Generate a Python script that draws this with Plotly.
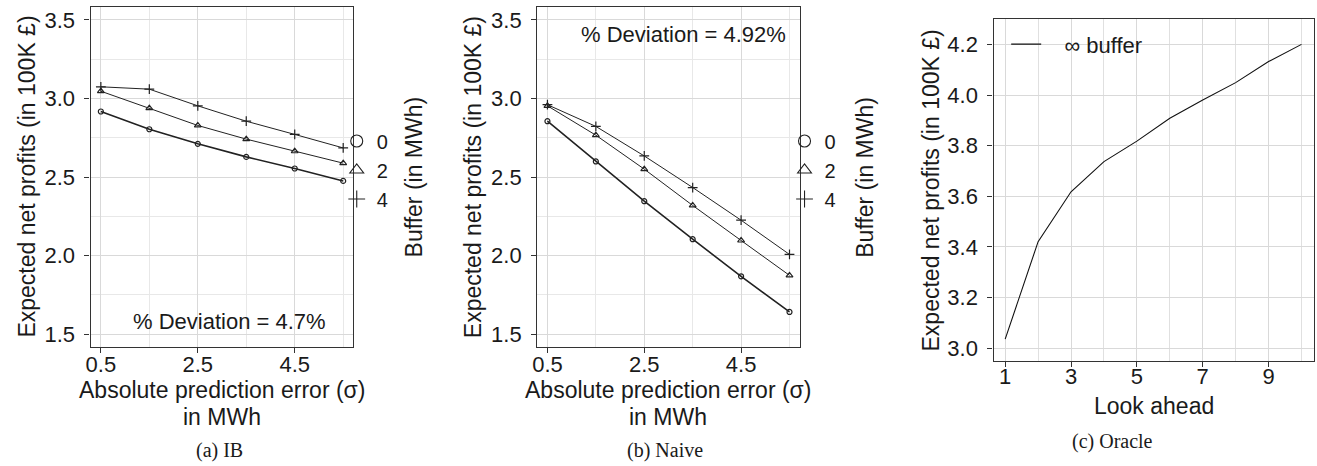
import plotly.graph_objects as go

W, H = 1317, 466

# Absolute prediction error (sigma) in MWh
sigma = [0.5, 1.5, 2.5, 3.5, 4.5, 5.5]
buffer_labels = ["0", "2", "4"]

# (a) IB policy, expected net profits (100K GBP) per buffer size
ib_buf0 = [2.917, 2.804, 2.711, 2.628, 2.554, 2.475]
ib_buf2 = [3.046, 2.938, 2.828, 2.741, 2.664, 2.588]
ib_buf4 = [3.074, 3.059, 2.953, 2.855, 2.771, 2.685]

# (b) Naive policy
naive_buf0 = [2.855, 2.599, 2.346, 2.104, 1.868, 1.641]
naive_buf2 = [2.953, 2.766, 2.550, 2.319, 2.096, 1.874]
naive_buf4 = [2.960, 2.822, 2.634, 2.433, 2.225, 2.007]

# (c) Oracle with infinite buffer
look_ahead = [1, 2, 3, 4, 5, 6, 7, 8, 9, 10]
oracle_profit = [3.036, 3.421, 3.618, 3.737, 3.818, 3.908, 3.980, 4.049, 4.132, 4.200]

deviation_ib = "% Deviation = 4.7%"
deviation_naive = "% Deviation = 4.92%"

SANS = "Liberation Sans, Arial, sans-serif"
SERIF = "Liberation Serif, Times New Roman, serif"
INK = "#1a1a1a"


def fx(px):
    return px / W


def fy(py):
    return 1 - py / H


symbols = ["circle-open", "triangle-up-open", "cross-thin-open"]
data_sizes = [5, 6, 7]
legend_sizes = [12, 12, 12]
line_widths = [1.6, 1.0, 1.0]

fig = go.Figure()


def add_panel(series, xa, ya, legend_name):
    for vals, sym, ms, lw in zip(series, symbols, data_sizes, line_widths):
        fig.add_trace(go.Scatter(
            x=sigma, y=vals, mode="lines+markers", xaxis=xa, yaxis=ya,
            line=dict(color="#222222", width=lw),
            marker=dict(symbol=sym, size=ms, color="#222222",
                        line=dict(width=1.2, color="#222222")),
            showlegend=False, hoverinfo="x+y"))
    for lab, sym, ms in zip(buffer_labels, symbols, legend_sizes):
        fig.add_trace(go.Scatter(
            x=[None], y=[None], mode="markers", xaxis=xa, yaxis=ya,
            name=lab, legend=legend_name,
            marker=dict(symbol=sym, size=ms, color="#222222",
                        line=dict(width=1.1, color="#222222")),
            showlegend=True))


add_panel([ib_buf0, ib_buf2, ib_buf4], "x", "y", "legend")
add_panel([naive_buf0, naive_buf2, naive_buf4], "x2", "y2", "legend2")

fig.add_trace(go.Scatter(
    x=look_ahead, y=oracle_profit, mode="lines", xaxis="x3", yaxis="y3",
    line=dict(color="#111111", width=1.1),
    name="\u00a0\u00a0\u00a0∞ buffer", legend="legend3", showlegend=True))

axis_common = dict(
    showline=True, mirror=True, linecolor="#333333", linewidth=1.4,
    ticks="outside", ticklen=5, tickwidth=1, tickcolor="#333333",
    showgrid=True, gridcolor="#d9d9d9", gridwidth=1, zeroline=False,
    tickfont=dict(family=SANS, size=22, color=INK),
)

ab_y = dict(axis_common, range=[1.42, 3.58], tickvals=[1.5, 2.0, 2.5, 3.0, 3.5],
            tickformat=".1f", ticklabelstandoff=5,
            minor=dict(tickvals=[1.75, 2.25, 2.75, 3.25], showgrid=True,
                       gridcolor="#e8e8e8", ticks=""),
            domain=[fy(346.7), fy(7.3)])
ab_x = dict(axis_common, range=[0.29, 5.71], tickvals=[0.5, 2.5, 4.5],
            ticktext=["0.5", "2.5", "4.5"], ticklabelstandoff=-7,
            minor=dict(tickvals=[1.5, 3.5, 5.5], showgrid=True,
                       gridcolor="#e8e8e8", ticks=""))

fig.update_layout(
    width=W, height=H,
    margin=dict(l=0, r=0, t=0, b=0),
    paper_bgcolor="white", plot_bgcolor="white",
    font=dict(family=SANS, size=22, color=INK),
    xaxis=dict(ab_x, domain=[fx(86), fx(349.7)], anchor="y"),
    yaxis=dict(ab_y, anchor="x"),
    xaxis2=dict(ab_x, domain=[fx(534.3), fx(797.7)], anchor="y2"),
    yaxis2=dict(ab_y, anchor="x2"),
    xaxis3=dict(axis_common, domain=[fx(992.3), fx(1314)], anchor="y3",
                range=[0.646, 10.38], tickvals=[1, 3, 5, 7, 9], ticklabelstandoff=-9,
                minor=dict(tickvals=[2, 4, 6, 8, 10], showgrid=True,
                           gridcolor="#e0e0e0", ticks="")),
    yaxis3=dict(axis_common, domain=[fy(360.7), fy(19.3)], anchor="x3",
                range=[2.951, 4.299], tickvals=[3.0, 3.2, 3.4, 3.6, 3.8, 4.0, 4.2],
                tickformat=".1f", ticklabelstandoff=5),
    legend=dict(x=fx(333), y=fy(170), xanchor="left", yanchor="middle",
                bgcolor="rgba(0,0,0,0)", borderwidth=0,
                font=dict(family=SANS, size=20, color=INK)),
    legend2=dict(x=fx(782.5), y=fy(170), xanchor="left", yanchor="middle",
                 bgcolor="rgba(0,0,0,0)", borderwidth=0,
                 font=dict(family=SANS, size=20, color=INK)),
    legend3=dict(x=fx(1005), y=fy(44.3), xanchor="left", yanchor="middle",
                 bgcolor="rgba(0,0,0,0)", borderwidth=0,
                 font=dict(family=SANS, size=22, color=INK)),
)

ytitle = "Expected net profits (in 100K £)"
annotations = [
    dict(text=ytitle, x=fx(21.7), y=fy(177), textangle=-90),
    dict(text=ytitle, x=fx(470), y=fy(177), textangle=-90),
    dict(text=ytitle, x=fx(930), y=fy(190), textangle=-90),
    dict(text="Buffer (in MWh)", x=fx(411), y=fy(177), textangle=-90),
    dict(text="Buffer (in MWh)", x=fx(863), y=fy(177), textangle=-90),
    dict(text="Absolute prediction error (σ)", x=fx(218), y=fy(390)),
    dict(text="in MWh", x=fx(218), y=fy(417)),
    dict(text="Absolute prediction error (σ)", x=fx(666), y=fy(390)),
    dict(text="in MWh", x=fx(666), y=fy(417)),
    dict(text="Look ahead", x=fx(1153), y=fy(406)),
]
for a in annotations:
    fig.add_annotation(xref="paper", yref="paper", showarrow=False,
                       xanchor="center", yanchor="middle",
                       font=dict(family=SANS, size=23, color=INK), **a)

for text, cx, cy in [(deviation_ib, 225, 321.7), (deviation_naive, 681, 35)]:
    fig.add_annotation(text=text, xref="paper", yref="paper", x=fx(cx), y=fy(cy),
                       showarrow=False, xanchor="center", yanchor="middle",
                       font=dict(family=SANS, size=22, color=INK))

for text, cx, cy in [("(a) IB", 215, 450), ("(b) Naive", 663, 450), ("(c) Oracle", 1112, 441)]:
    fig.add_annotation(text=text, xref="paper", yref="paper", x=fx(cx), y=fy(cy),
                       showarrow=False, xanchor="center", yanchor="middle",
                       font=dict(family=SERIF, size=20, color=INK))

fig.write_html("out.html")
